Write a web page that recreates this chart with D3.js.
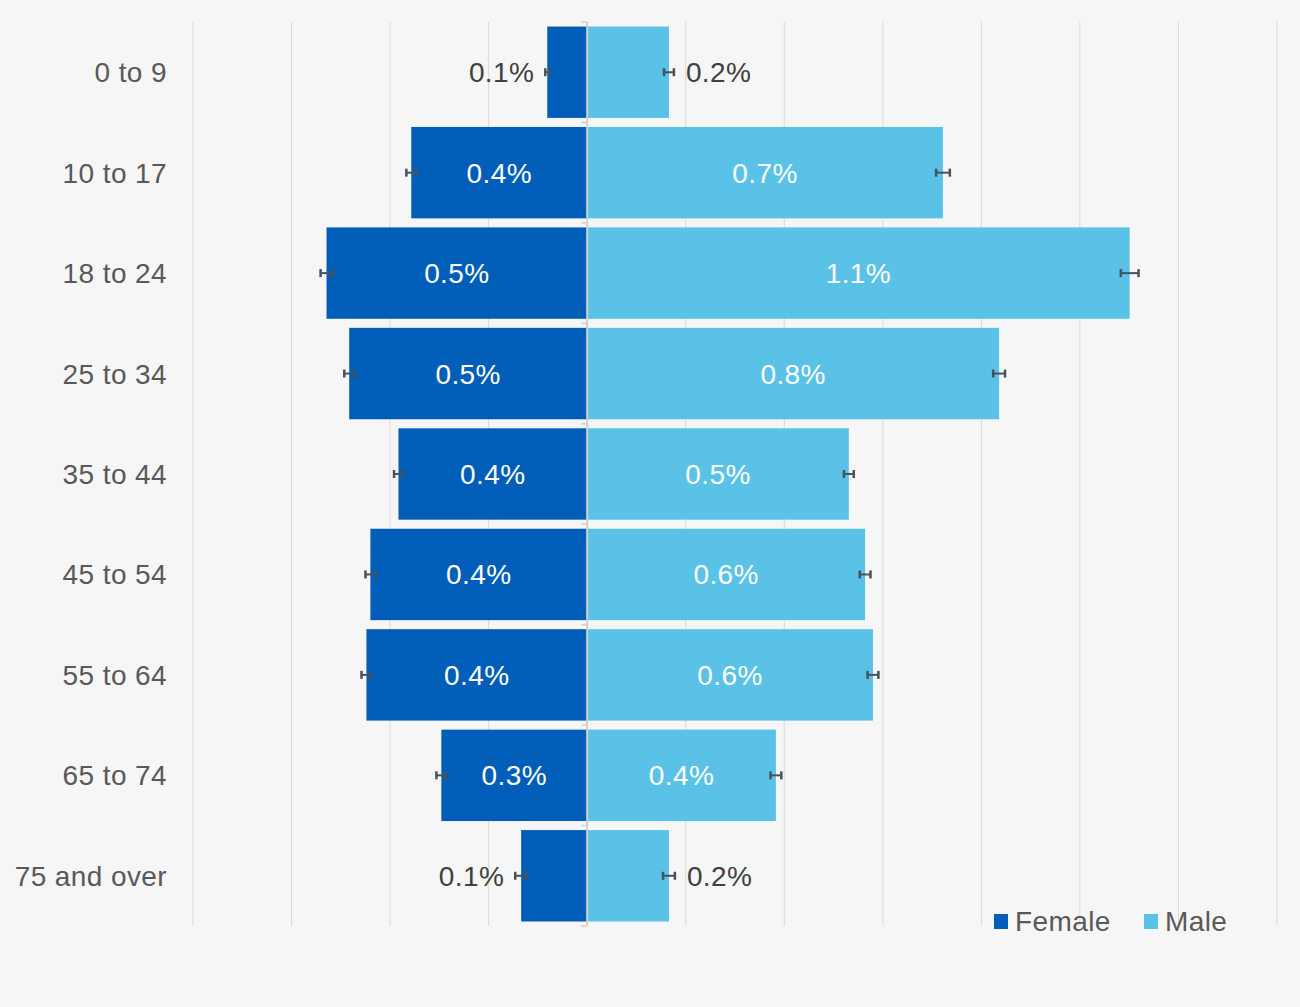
<!doctype html>
<html lang=en>
<head>
<meta charset=utf-8>
<title>Age by sex</title>
<script src="https://d3js.org/d3.v7.min.js"></script>
<style>
  body { margin: 0; background: #f6f6f6; }
  text { font-family: "Liberation Sans", Arial, sans-serif; letter-spacing: 0.4px; }
</style>
</head>
<body>
<div id="container"></div>
<script>
    var ages = ["0 to 9", "10 to 17", "18 to 24", "25 to 34", "35 to 44", "45 to 54", "55 to 64", "65 to 74", "75 and over"];
    var female = [0.081, 0.357, 0.529, 0.483, 0.383, 0.440, 0.448, 0.296, 0.134];
    var male = [0.166, 0.722, 1.101, 0.836, 0.531, 0.564, 0.580, 0.383, 0.166];
    var femaleErr = [0.004, 0.010, 0.012, 0.010, 0.009, 0.010, 0.010, 0.010, 0.012];
    var maleErr = [0.010, 0.014, 0.018, 0.012, 0.010, 0.011, 0.011, 0.011, 0.012];
    var femaleLabels = ["0.1%", "0.4%", "0.5%", "0.5%", "0.4%", "0.4%", "0.4%", "0.3%", "0.1%"];
    var maleLabels = ["0.2%", "0.7%", "1.1%", "0.8%", "0.5%", "0.6%", "0.6%", "0.4%", "0.2%"];
    var gridTicks = [-0.8, -0.6, -0.4, -0.2, 0.2, 0.4, 0.6, 0.8, 1.0, 1.2, 1.4];

    var w = 1300, h = 1007;
    var svg = d3.select("#container").append("svg")
        .attr("width", w).attr("height", h)
        .style("background-color", "#f6f6f6");

    var x = d3.scaleLinear().domain([-0.8, 1.4]).range([193, 1277]);
    var y = d3.scaleBand().domain(ages).range([22, 926]).paddingInner(0.09).paddingOuter(0.045);
    var band = d3.scaleBand().domain(ages).range([22, 926]);

    var rows = ages.map(function(a, i) {
        return {age: a, f: female[i], m: male[i], fe: femaleErr[i], me: maleErr[i], fl: femaleLabels[i], ml: maleLabels[i]};
    });

// gridlines
    svg.selectAll("line.grid")
        .data(gridTicks)
        .enter()
        .append("line")
        .attr("class", "grid")
        .attr("x1", function(d) {return x(d);})
        .attr("x2", function(d) {return x(d);})
        .attr("y1", 22).attr("y2", 926)
        .attr("stroke", "#d9d9d9").attr("stroke-width", 1);

// female bars
    svg.selectAll("rect.female")
        .data(rows)
        .enter()
        .append("rect")
        .attr("x", function(d) {return x(-d.f);})
        .attr("y", function(d) {return y(d.age);})
        .attr("width", function(d) {return x(0) - x(-d.f);})
        .attr("height", y.bandwidth())
        .attr("fill", "#005eb8");

// male bars
    svg.selectAll("rect.male")
        .data(rows)
        .enter()
        .append("rect")
        .attr("x", x(0))
        .attr("y", function(d) {return y(d.age);})
        .attr("width", function(d) {return x(d.m) - x(0);})
        .attr("height", y.bandwidth())
        .attr("fill", "#5bc2e7");

// centre axis with boundary ticks
    svg.append("line")
        .attr("x1", x(0)).attr("x2", x(0))
        .attr("y1", 22).attr("y2", 926)
        .attr("stroke", "#d0d0d0").attr("stroke-width", 2);
    svg.selectAll("line.btick")
        .data(ages.concat(["end"]))
        .enter()
        .append("line")
        .attr("x1", x(0) - 6).attr("x2", x(0))
        .attr("y1", function(d, i) {return 22 + i * band.step();})
        .attr("y2", function(d, i) {return 22 + i * band.step();})
        .attr("stroke", "#d0d0d0").attr("stroke-width", 1.5);

// error bars
    function errorBar(g, lo, hi, cy) {
        g.append("line").attr("x1", lo).attr("x2", hi).attr("y1", cy).attr("y2", cy)
            .attr("stroke", "#48525c").attr("stroke-width", 2);
        [lo, hi].forEach(function(xx) {
            g.append("line").attr("x1", xx).attr("x2", xx).attr("y1", cy - 4).attr("y2", cy + 4)
                .attr("stroke", "#48525c").attr("stroke-width", 2.5);
        });
    }
    rows.forEach(function(d) {
        var cy = band(d.age) + band.bandwidth() / 2;
        errorBar(svg, x(-d.f - d.fe), x(-d.f + d.fe), cy);
        errorBar(svg, x(d.m - d.me), x(d.m + d.me), cy);
    });

// value labels
    svg.selectAll("text.flab")
        .data(rows)
        .enter()
        .append("text")
        .attr("x", function(d) {
            return d.f < 0.2 ? x(-d.f - d.fe) - 11 : (x(-d.f) + x(0)) / 2;
        })
        .attr("y", function(d) {return band(d.age) + band.bandwidth() / 2 + 10;})
        .attr("text-anchor", function(d) {return d.f < 0.2 ? "end" : "middle";})
        .attr("fill", function(d) {return d.f < 0.2 ? "#404040" : "#ffffff";})
        .style("font-size", "28px")
        .text(function(d) {return d.fl;});

    svg.selectAll("text.mlab")
        .data(rows)
        .enter()
        .append("text")
        .attr("x", function(d) {
            return d.m < 0.2 ? x(d.m + d.me) + 12 : (x(d.m) + x(0)) / 2;
        })
        .attr("y", function(d) {return band(d.age) + band.bandwidth() / 2 + 10;})
        .attr("text-anchor", function(d) {return d.m < 0.2 ? "start" : "middle";})
        .attr("fill", function(d) {return d.m < 0.2 ? "#404040" : "#ffffff";})
        .style("font-size", "28px")
        .text(function(d) {return d.ml;});

// category labels
    svg.selectAll("text.cat")
        .data(ages)
        .enter()
        .append("text")
        .attr("x", 167)
        .attr("y", function(d) {return band(d) + band.bandwidth() / 2 + 10;})
        .attr("text-anchor", "end")
        .attr("fill", "#595959")
        .style("font-size", "28px")
        .text(function(d) {return d;});

// legend
    var legend = [{name: "Female", color: "#005eb8", x: 994}, {name: "Male", color: "#5bc2e7", x: 1144}];
    var lg = svg.selectAll("g.legend").data(legend).enter().append("g")
        .attr("transform", function(d) {return "translate(" + d.x + ",914)";});
    lg.append("rect").attr("width", 14).attr("height", 15).attr("fill", function(d) {return d.color;});
    lg.append("text").attr("x", 21).attr("y", 17)
        .attr("fill", "#595959").style("font-size", "28px")
        .text(function(d) {return d.name;});
</script>
</body>
</html>
